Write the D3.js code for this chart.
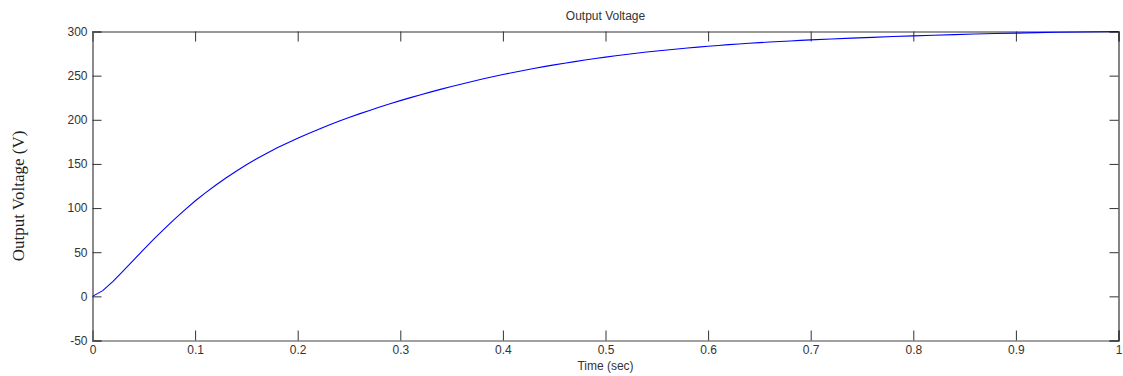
<!DOCTYPE html>
<html>
<head>
<meta charset="utf-8">
<script src="https://cdn.jsdelivr.net/npm/d3@7"></script>
<style>
  body { margin: 0; background: #fff; }
  svg { display: block; }
  .tick text { font-family: Arial, "Liberation Sans", sans-serif; font-size: 12px; fill: #333; }
</style>
</head>
<body>
<div id="chart"></div>
<script>
// time (sec) and output voltage (V)
var time = [0, 0.01, 0.02, 0.03, 0.04, 0.05, 0.06, 0.07, 0.08, 0.09,
  0.10, 0.11, 0.12, 0.13, 0.14, 0.15, 0.16, 0.17, 0.18, 0.19,
  0.20, 0.21, 0.22, 0.23, 0.24, 0.25, 0.26, 0.27, 0.28, 0.29,
  0.30, 0.31, 0.32, 0.33, 0.34, 0.35, 0.36, 0.37, 0.38, 0.39,
  0.40, 0.41, 0.42, 0.43, 0.44, 0.45, 0.46, 0.47, 0.48, 0.49,
  0.50, 0.51, 0.52, 0.53, 0.54, 0.55, 0.56, 0.57, 0.58, 0.59,
  0.60, 0.61, 0.62, 0.63, 0.64, 0.65, 0.66, 0.67, 0.68, 0.69,
  0.70, 0.72, 0.74, 0.76, 0.78, 0.80, 0.82, 0.84, 0.86, 0.88,
  0.90, 0.92, 0.94, 0.96, 0.98, 1.0];
var volts = [0, 6.5, 17, 28.8, 41.1, 53.2, 65, 76.4, 87.4, 97.9,
  108, 117.2, 125.9, 134.1, 141.8, 149.0, 155.8, 162.2, 168.2, 173.8,
  179.1, 184.2, 189.1, 193.8, 198.3, 202.6, 206.7, 210.6, 214.4, 218.1,
  221.7, 225.1, 228.4, 231.6, 234.7, 237.7, 240.6, 243.4, 246.1, 248.7,
  251.2, 253.6, 255.9, 258.1, 260.2, 262.2, 264.1, 265.9, 267.7, 269.4,
  271.0, 272.5, 274.0, 275.4, 276.7, 277.9, 279.1, 280.2, 281.3, 282.3,
  283.3, 284.2, 285.1, 285.9, 286.7, 287.4, 288.1, 288.7, 289.3, 289.9,
  290.5, 291.5, 292.5, 293.4, 294.3, 295.1, 295.8, 296.5, 297.1, 297.7,
  298.2, 298.7, 299.1, 299.4, 299.7, 300];
var xTicks = [0, 0.1, 0.2, 0.3, 0.4, 0.5, 0.6, 0.7, 0.8, 0.9, 1];
var yTicks = [-50, 0, 50, 100, 150, 200, 250, 300];

var W = 1123, H = 376;
var margin = {top: 31.5, right: 4.5, bottom: 35.5, left: 92.5};
var width = W - margin.left - margin.right,
    height = H - margin.top - margin.bottom;

var svg = d3.select("#chart").append("svg")
  .attr("width", W)
  .attr("height", H);

var g = svg.append("g")
  .attr("transform", "translate(" + margin.left + "," + margin.top + ")");

var x = d3.scaleLinear().domain([0, 1]).range([0, width]);
var y = d3.scaleLinear().domain([-50, 300]).range([height, 0]);

var fmtX = function(d) { return d === 0 || d === 1 ? String(d) : d.toFixed(1); };
var fmtY = function(d) { return String(d); };

// bottom axis with labels, inward ticks
var xAxis = g.append("g")
  .attr("transform", "translate(0," + height + ")")
  .call(d3.axisBottom(x).tickValues(xTicks).tickSize(-10).tickPadding(5).tickFormat(fmtX));
// top axis, ticks only
var xTop = g.append("g")
  .call(d3.axisTop(x).tickValues(xTicks).tickSize(-10).tickFormat(""));
// left axis with labels
var yAxis = g.append("g")
  .call(d3.axisLeft(y).tickValues(yTicks).tickSize(-9).tickPadding(5).tickFormat(fmtY));
// right axis, ticks only
var yRight = g.append("g")
  .attr("transform", "translate(" + width + ",0)")
  .call(d3.axisRight(y).tickValues(yTicks).tickSize(-9).tickFormat(""));

[xAxis, xTop, yAxis, yRight].forEach(function(a) {
  a.select(".domain").attr("stroke", "#333").attr("stroke-width", 1.2);
  a.selectAll(".tick line").attr("stroke", "#333");
});
yAxis.select(".domain").attr("stroke", "#666").attr("stroke-width", 1.5);
xAxis.select(".domain").attr("stroke", "#444");

var data = time.map(function(t, i) { return {t: t, v: volts[i]}; });

var line = d3.line()
  .x(function(d) { return x(d.t); })
  .y(function(d) { return y(d.v); });

g.append("path")
  .datum(data)
  .attr("fill", "none")
  .attr("stroke", "#0000ff")
  .attr("stroke-width", 1.1)
  .attr("d", line);

// title
svg.append("text")
  .attr("x", margin.left + width / 2)
  .attr("y", 20)
  .attr("text-anchor", "middle")
  .style("font-family", "Arial, 'Liberation Sans', sans-serif")
  .style("font-size", "12px")
  .style("fill", "#333")
  .text("Output Voltage");

// x label
svg.append("text")
  .attr("x", margin.left + width / 2)
  .attr("y", 370)
  .attr("text-anchor", "middle")
  .style("font-family", "Arial, 'Liberation Sans', sans-serif")
  .style("font-size", "12px")
  .style("fill", "#333")
  .text("Time (sec)");

// y label
svg.append("text")
  .attr("transform", "translate(24," + 196 + ") rotate(-90)")
  .attr("text-anchor", "middle")
  .style("font-family", "'Liberation Serif', 'DejaVu Serif', serif")
  .style("font-size", "17px")
  .style("fill", "#222")
  .text("Output Voltage (V)");
</script>
</body>
</html>
